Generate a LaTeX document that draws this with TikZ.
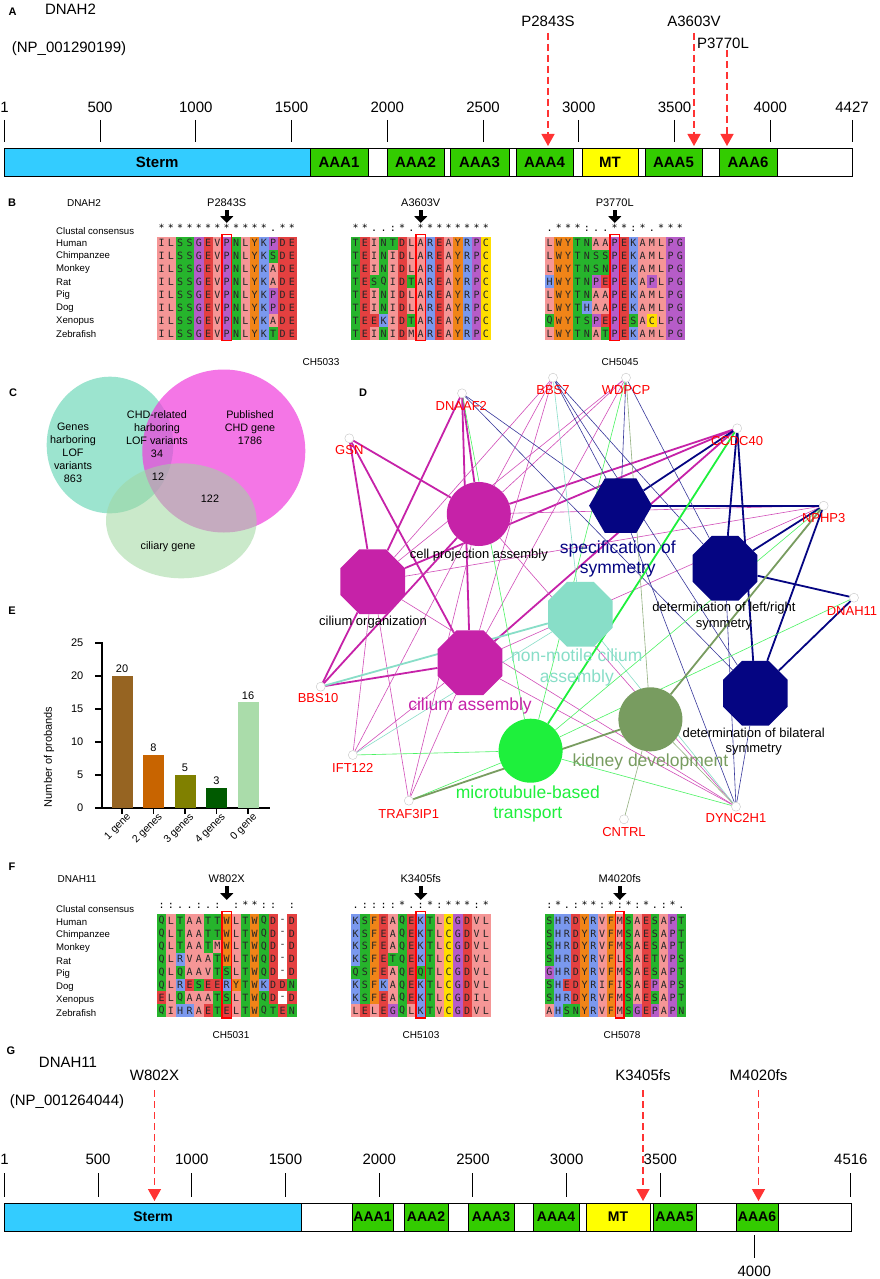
\documentclass[tikz,border=0pt]{standalone}
\usepackage{fontspec}
\setmainfont{Liberation Sans}
\newfontfamily\resfont{DejaVu Sans Mono}
\usetikzlibrary{arrows.meta,shapes.geometric,backgrounds}

\definecolor{stermblue}{RGB}{51,204,255}
\definecolor{aaagreen}{RGB}{51,204,0}
\definecolor{mtyellow}{RGB}{255,255,0}
\definecolor{mutred}{RGB}{255,51,51}
\definecolor{reshyd}{RGB}{245,150,150}
\definecolor{resacid}{RGB}{228,64,64}
\definecolor{respolar}{RGB}{38,180,44}
\definecolor{resgp}{RGB}{182,92,200}
\definecolor{resarom}{RGB}{240,132,24}
\definecolor{resbasic}{RGB}{122,152,238}
\definecolor{rescys}{RGB}{255,222,0}
\definecolor{venteal}{RGB}{90,210,175}
\definecolor{venmag}{RGB}{240,60,220}
\definecolor{vengreen}{RGB}{160,215,160}
\definecolor{barbrown}{RGB}{150,100,34}
\definecolor{barorange}{RGB}{200,100,0}
\definecolor{barolive}{RGB}{128,128,0}
\definecolor{bardark}{RGB}{0,90,0}
\definecolor{barlight}{RGB}{170,220,170}
\definecolor{termmag}{RGB}{198,34,168}
\definecolor{termnavy}{RGB}{5,5,130}
\definecolor{termteal}{RGB}{136,222,200}
\definecolor{termgreen}{RGB}{30,240,60}
\definecolor{termolive}{RGB}{120,156,96}

% residue colours
\def\setres#1#2{\expandafter\def\csname rc#1\endcsname{#2}}
\setres A{reshyd}\setres I{reshyd}\setres L{reshyd}\setres M{reshyd}\setres V{reshyd}
\setres D{resacid}\setres E{resacid}
\setres S{respolar}\setres T{respolar}\setres N{respolar}\setres Q{respolar}
\setres G{resgp}\setres P{resgp}
\setres Y{resarom}\setres W{resarom}\setres F{resarom}
\setres K{resbasic}\setres R{resbasic}\setres H{resbasic}
\setres C{rescys}\setres -{white}

% one alignment row: x, top, cell width, residues
\newcommand\alnrow[4]{\def\alnx{#1}\def\alny{#2}\def\alnw{#3}\def\alnc{0}%
  \expandafter\alnloop#4\relax}
\def\alnloop#1{\ifx\relax#1\else\alncell{#1}\expandafter\alnloop\fi}
\newcommand\alncell[1]{%
  \edef\alnfill{\csname rc#1\endcsname}%
  \fill[fill=\alnfill] ({\alnx+\alnc*\alnw},{\alny}) rectangle ++(\alnw,12.9);
  \node[res] at ({\alnx+(\alnc+0.5)*\alnw},{\alny+6.45}) {#1};
  \pgfmathsetmacro\alnc{\alnc+1}}
% consensus row: x, baseline, cell width, symbols (x = blank)
\newcommand\consrow[4]{\def\alnx{#1}\def\alny{#2}\def\alnw{#3}\def\alnc{0}%
  \consloop#4\relax}
\def\consloop#1{\ifx\relax#1\else\conscell{#1}\expandafter\consloop\fi}
\newcommand\conscell[1]{\ifx x#1\else
  \node[cons] at ({\alnx+(\alnc+0.5)*\alnw},{\alny}) {#1};\fi
  \pgfmathsetmacro\alnc{\alnc+1}}

\tikzset{
  panel/.style={font=\bfseries\fontsize{11}{13}\selectfont, inner sep=0},
  txtbig/.style={font=\fontsize{15}{18}\selectfont, inner sep=0},
  txtsmall/.style={font=\fontsize{10}{12}\selectfont, inner sep=0},
  txtmid/.style={font=\fontsize{11}{13}\selectfont, inner sep=0},
  rowlab/.style={font=\fontsize{9.6}{11}\selectfont, inner sep=0, anchor=west},
  res/.style={font=\resfont\fontsize{10}{10}\selectfont, inner sep=0, text=black!85},
  cons/.style={font=\resfont\fontsize{10}{10}\selectfont, inner sep=0, anchor=base},
  hl/.style={draw=red, line width=1.8pt},
  blackarrow/.style={line width=4.5pt, -{Triangle[width=13pt,length=7pt]}},
  dombox/.style={draw=black, line width=1pt},
  domlab/.style={font=\bfseries\fontsize{15}{18}\selectfont, inner sep=0},
  tickline/.style={line width=1pt},
  mutline/.style={mutred, dash pattern=on 7pt off 4pt, line width=1.3pt,
    -{Triangle[width=13pt,length=12pt]}},
  venn/.style={font=\fontsize{10.8}{13}\selectfont, inner sep=0, align=center},
  axisline/.style={line width=1.6pt},
  gene/.style={circle, draw=gray!45, fill=white, minimum size=9pt, inner sep=0},
  genelab/.style={font=\fontsize{13}{15}\selectfont, text=red, inner sep=0},
  termlab/.style={font=\fontsize{13}{15.5}\selectfont, inner sep=0, align=center},
  termbig/.style={font=\fontsize{17.5}{20.5}\selectfont, inner sep=0, align=center},
  octo/.style={regular polygon, regular polygon sides=8, minimum size=70pt, inner sep=0},
  magT/.style={termmag, line width=1.8pt},
  magt/.style={termmag!80, line width=0.6pt},
  navT/.style={termnavy, line width=1.8pt},
  navt/.style={termnavy!80!white, line width=0.6pt},
  grnT/.style={termgreen, line width=1.8pt},
  grnt/.style={termgreen!80!white, line width=0.6pt},
  olvT/.style={termolive, line width=1.8pt},
  olvt/.style={termolive!80!white, line width=0.6pt},
  tealT/.style={termteal, line width=1.8pt},
  tealt/.style={termteal, line width=0.6pt}
}

\begin{document}
\begin{tikzpicture}[x=1pt,y=-1pt]
  \begin{scope}[on background layer]
    \fill[white] (0,0) rectangle (879,1279);
  \end{scope}
  \useasboundingbox (0,0) rectangle (879,1279);

  % ---------- A ----------
  \node[panel] (pA) at (12.5,12) {A};
  \node[txtbig] (gA) at (70.5,9) {DNAH2};
  \node[txtbig] (npA) at (69,49) {(NP\_001290199)};
  \node[txtbig] (mA1) at (548,21) {P2843S};
  \node[txtbig] (mA2) at (694,21) {A3603V};
  \node[txtbig] (mA3) at (723,43) {P3770L};

  \foreach \v in {1,500,1000,1500,2000,2500,3000,3500,4000,4427} {
    \draw[tickline] ({4.5+(\v-1)*0.1915},120) -- ({4.5+(\v-1)*0.1915},142);
    \node[txtbig] at ({4.5+(\v-1)*0.1915},107) {\v};
  }
  \draw[dombox, fill=white] (4.5,148) rectangle (852,176);
  \foreach \a/\b/\c/\n in {4.5/310/stermblue/Sterm, 310/368/aaagreen/AAA1,
      387/444/aaagreen/AAA2, 450/509/aaagreen/AAA3, 516/573/aaagreen/AAA4,
      582/638/mtyellow/MT, 645/702/aaagreen/AAA5, 719/777/aaagreen/AAA6} {
    \draw[dombox, fill=\c] (\a,148) rectangle (\b,176);
    \node[domlab] at ({(\a+\b)/2},162) {\n};
  }
  \coordinate (a1s) at (548,33);  \coordinate (a1e) at (548,146);
  \coordinate (a2s) at (694,33);  \coordinate (a2e) at (694,146);
  \coordinate (a3s) at (727,50);  \coordinate (a3e) at (727,146);
  \draw[mutline] (a1s) -- (a1e);
  \draw[mutline] (a2s) -- (a2e);
  \draw[mutline] (a3s) -- (a3e);

  % ---------- B ----------
  \node[panel] (pB) at (12,203) {B};
  \node[txtsmall] (gB) at (84,203) {DNAH2};
  \node[rowlab] at (56,231) {Clustal consensus};
  \foreach \n [count=\i from 0] in {Human,Chimpanzee,Monkey,Rat,Pig,Dog,Xenopus,Zebrafish}
    \node[rowlab] at (56,{243.5+13*\i}) {\n};

  \foreach \s [count=\i from 0] in {ILSSGEVPNLYKPDE,ILSSGEVPNLYKSDE,ILSSGEVPNLYKADE,
      ILSSGEVPNLYKADE,ILSSGEVPNLYKPDE,ILSSGEVPNLYKPDE,ILSSGEVPNLYKADE,ILSSGEVPNLYKTDE}
    {\alnrow{157}{236.7+12.9*\i}{9.3}{\s}}
  \foreach \s [count=\i from 0] in {TEINTDLAREAYRPC,TEINIDLAREAYRPC,TEINIDLAREAYRPC,
      TESQIDTAREAYRPC,TEINIDLAREAYRPC,TEINIDLAREAYRPC,TEEKIDTAREAYRPC,TEINIDMAREAYRPC}
    {\alnrow{351}{236.7+12.9*\i}{9.3}{\s}}
  \foreach \s [count=\i from 0] in {LWYTNAAPEKAMLPG,LWYTNSSPEKAMLPG,LWYTNSNPEKAMLPG,
      HWYTNPEPEKAPLPG,LWYTNAAPEKAMLPG,LWYTHAAPEKAMLPG,QWYTSPEPESACLPG,LWYTNATPEKAMLPG}
    {\alnrow{545}{236.7+12.9*\i}{9.3}{\s}}
  \consrow{157}{231}{9.3}{************.**}
  \consrow{351}{231}{9.3}{**..:*.********}
  \consrow{545}{231}{9.3}{.***:..**:*.***}
  \draw[hl] (222.1,234.5) rectangle ++(9.3,106);
  \draw[hl] (416.1,234.5) rectangle ++(9.3,106);
  \draw[hl] (610.1,234.5) rectangle ++(9.3,106);

  \node[txtmid] (mB1) at (226.75,203) {P2843S};
  \node[txtmid] (mB2) at (420.75,203) {A3603V};
  \node[txtmid] (mB3) at (614.75,203) {P3770L};
  \coordinate (b1) at (226.75,223); \coordinate (b2) at (420.75,223); \coordinate (b3) at (614.75,223);
  \draw[blackarrow] (mB1.south) ++(0,3) -- (b1);
  \draw[blackarrow] (mB2.south) ++(0,3) -- (b2);
  \draw[blackarrow] (mB3.south) ++(0,3) -- (b3);
  \node[txtsmall] (chB1) at (321,362) {CH5033};
  \node[txtsmall] (chB3) at (620,362) {CH5045};

  % ---------- C ----------
  \node[panel] (pC) at (13,393) {C};
  \fill[venteal, fill opacity=0.6] (110,445) ellipse [x radius=63.3, y radius=68.3];
  \fill[venmag, fill opacity=0.7] (223.8,451) circle [radius=81.5];
  \fill[vengreen, fill opacity=0.55] (181.3,520.8) ellipse [x radius=75.3, y radius=57.5];
  \node[venn] (vlof) at (73,452.5) {Genes\\harboring\\LOF\\variants\\863};
  \node[venn] (vchd) at (157,434.5) {CHD-related\\harboring\\LOF variants\\34};
  \node[venn] (vpub) at (250,428) {Published\\CHD gene\\1786};
  \node[venn] (v12) at (158,477) {12};
  \node[venn] (v122) at (210,499) {122};
  \node[venn] (vcil) at (168,547) {ciliary gene};

  % ---------- E ----------
  \node[panel] (pE) at (12,611) {E};
  \draw[axisline] (101.7,642) -- (101.7,808) -- (270,808);
  \foreach \v in {0,5,10,15,20,25} {
    \draw[axisline] (95,{808-6.6*\v}) -- (101.7,{808-6.6*\v});
    \node[txtmid, anchor=east] at (83.5,{808-6.6*\v}) {\v};
  }
  \foreach \x/\v/\c/\n in {122/20/barbrown/1 gene, 153.5/8/barorange/2 genes,
      185/5/barolive/3 genes, 216.5/3/bardark/4 genes, 248/16/barlight/0 gene} {
    \fill[\c] ({\x-10.5},808) rectangle ({\x+10.5},{808-6.6*\v});
    \node[txtmid, anchor=south] at (\x,{805-6.6*\v}) {\v};
    \draw[axisline] (\x,808) -- (\x,814);
    \node[txtmid, font=\fontsize{10.5}{12}\selectfont, rotate=45, anchor=north east]
      at ({\x+4},812) {\n};
  }
  \node[txtmid] [rotate=90] (ylab) at (49,757) {Number of probands};

  % ---------- D ----------
  \node[panel] (pD) at (363,393) {D};
  \node[circle, fill=termmag, minimum size=64pt, inner sep=0] (cpa) at (478.8,514) {};
  \node[regular polygon, regular polygon sides=6, minimum size=63pt, inner sep=0,
        fill=termnavy] (sos) at (620.6,505.7) {};
  \node[octo, fill=termmag] (co) at (372.7,581.7) {};
  \node[octo, fill=termnavy] (lrs) at (725,568.3) {};
  \node[octo, fill=termteal] (nmca) at (580.4,614.3) {};
  \node[octo, fill=termmag] (ca) at (470,662.7) {};
  \node[circle, fill=termgreen, minimum size=64pt, inner sep=0] (mbt) at (530.6,750.7) {};
  \node[circle, fill=termolive, minimum size=64pt, inner sep=0] (kd) at (650.4,719.3) {};
  \node[octo, fill=termnavy] (bs) at (755.4,693.3) {};

  \node[gene] (dnaaf2) at (462,393.3) {};
  \node[gene] (bbs7) at (553,377.7) {};
  \node[gene] (wdpcp) at (626,377.7) {};
  \node[gene] (gsn) at (349.3,438.3) {};
  \node[gene] (ccdc40) at (737.2,428.3) {};
  \node[gene] (nphp3) at (823.7,505.7) {};
  \node[gene] (dnah11) at (854,597.7) {};
  \node[gene] (bbs10) at (320.7,686.7) {};
  \node[gene] (ift122) at (352.8,755) {};
  \node[gene] (traf3ip1) at (408.8,800.7) {};
  \node[gene] (cntrl) at (624,819.3) {};
  \node[gene] (dync2h1) at (736,806.7) {};

  \begin{scope}[on background layer]
    \foreach \g/\t in {gsn/cpa, gsn/co, gsn/ca, dnaaf2/cpa, dnaaf2/co, dnaaf2/ca,
        ccdc40/cpa, ccdc40/co, ccdc40/ca, bbs10/cpa, bbs10/co, bbs10/ca}
      \draw[magT] (\g) -- (\t);
    \foreach \g/\t in {bbs7/cpa, bbs7/co, bbs7/ca, wdpcp/cpa, wdpcp/co, wdpcp/ca,
        nphp3/cpa, nphp3/co, nphp3/ca, ift122/cpa, ift122/co, ift122/ca,
        traf3ip1/cpa, traf3ip1/co, traf3ip1/ca, dync2h1/cpa, dync2h1/co, dync2h1/ca}
      \draw[magt] (\g) -- (\t);
    \foreach \g/\t in {ccdc40/sos, ccdc40/lrs, ccdc40/bs, nphp3/sos, nphp3/lrs,
        nphp3/bs, dnah11/lrs, dnah11/bs}
      \draw[navT] (\g) -- (\t);
    \foreach \g/\t in {dnaaf2/sos, dnaaf2/bs, bbs7/sos, bbs7/lrs, bbs7/bs,
        wdpcp/sos, wdpcp/lrs, dync2h1/sos, dync2h1/lrs, dync2h1/bs}
      \draw[navt] (\g) -- (\t);
    \draw[tealT] (bbs10) -- (nmca);
    \foreach \g in {bbs7, ift122, dync2h1}
      \draw[tealt] (\g) -- (nmca);
    \draw[grnT] (ccdc40) -- (mbt);
    \foreach \g in {dnaaf2, wdpcp, nphp3, dnah11, ift122, traf3ip1, dync2h1}
      \draw[grnt] (\g) -- (mbt);
    \draw[olvT] (nphp3) -- (kd);
    \draw[olvT] (traf3ip1) -- (kd);
    \foreach \g in {wdpcp, cntrl, dync2h1}
      \draw[olvt] (\g) -- (kd);
  \end{scope}

  \node[genelab] at (461.3,406) {DNAAF2};
  \node[genelab] at (553,390) {BBS7};
  \node[genelab] at (626,390) {WDPCP};
  \node[genelab] at (349.3,450) {GSN};
  \node[genelab] at (737,441) {CCDC40};
  \node[genelab] at (823.7,518.3) {NPHP3};
  \node[genelab] at (852,610.7) {DNAH11};
  \node[genelab] at (318,698) {BBS10};
  \node[genelab] at (352.8,768.3) {IFT122};
  \node[genelab] at (408.8,814) {TRAF3IP1};
  \node[genelab] at (624,831.7) {CNTRL};
  \node[genelab] at (736,818.3) {DYNC2H1};

  \node[termlab] at (478.8,555) {cell projection assembly};
  \node[termbig, text=termnavy] at (617.8,559) {specification of\\symmetry};
  \node[termlab] at (373,622.5) {cilium organization};
  \node[termlab] at (724,616) {determination of left/right\\symmetry};
  \node[termbig, text=termteal] at (576.8,667.7) {non-motile cilium\\assembly};
  \node[termbig, text=termmag] at (470,705.7) {cilium assembly};
  \node[termbig, text=termgreen] at (527.8,803.8) {microtubule-based\\transport};
  \node[termbig, text=termolive] at (650.4,762.3) {kidney development};
  \node[termlab] at (753.7,741.7) {determination of bilateral\\symmetry};

  % ---------- F ----------
  \node[panel] (pF) at (12,867) {F};
  \node[txtsmall] (gF) at (77,879) {DNAH11};
  \node[rowlab] at (56,909) {Clustal consensus};
  \foreach \n [count=\i from 0] in {Human,Chimpanzee,Monkey,Rat,Pig,Dog,Xenopus,Zebrafish}
    \node[rowlab] at (56,{922.5+13*\i}) {\n};

  \foreach \s [count=\i from 0] in {QLTAATTWLTWQD-D,QLTAATTWLTWQD-D,QLTAATMWLTWQD-D,
      QLRVAATWLTWQD-D,QLQAAVTSLTWQD-D,QLRESEERYTWKDDN,ELQAAATSLTWQD-D,QIHRAETELTWQTEN}
    {\alnrow{157}{914+12.9*\i}{9.3}{\s}}
  \foreach \s [count=\i from 0] in {KSFEAQEKTLCGDVL,KSFEAQEKTLCGDVL,KSFEAQEKTLCGDVL,
      KSFETQEKTLCGDVL,QSFEAQEQTLCGDVL,KSFKAQEKTLCGDVL,KSFEAQEKTLCGDIL,LELEGQLKTVCGDVL}
    {\alnrow{351}{914+12.9*\i}{9.3}{\s}}
  \foreach \s [count=\i from 0] in {SHRDYRVFMSAESAPT,SHRDYRVFMSAESAPT,SHRDYRVFMSAESAPT,
      SHRDYRVFLSAETVPS,GHRDYRVFMSAESAPT,SHEDYRIFISAEPAPS,SHRDYRVFMSAESAPT,AHSNYRVFMSGEPAPN}
    {\alnrow{545}{914+12.9*\i}{8.8}{\s}}
  \consrow{157}{908.5}{9.3}{::..:.:x:**::x:}
  \consrow{351}{908.5}{9.3}{.::::*.:*:***:*}
  \consrow{545}{908.5}{8.8}{:*.:**:*:*:*.:*.}
  \draw[hl] (222.1,911.5) rectangle ++(9.3,106.5);
  \draw[hl] (416.1,911.5) rectangle ++(9.3,106.5);
  \draw[hl] (615.4,911.5) rectangle ++(8.8,106.5);

  \node[txtmid] (mF1) at (226.75,879) {W802X};
  \node[txtmid] (mF2) at (420.75,879) {K3405fs};
  \node[txtmid] (mF3) at (619.8,879) {M4020fs};
  \coordinate (f1) at (226.75,900); \coordinate (f2) at (420.75,900); \coordinate (f3) at (619.8,900);
  \draw[blackarrow] (mF1.south) ++(0,3) -- (f1);
  \draw[blackarrow] (mF2.south) ++(0,3) -- (f2);
  \draw[blackarrow] (mF3.south) ++(0,3) -- (f3);
  \node[txtsmall] (chF1) at (231,1035) {CH5031};
  \node[txtsmall] (chF2) at (421,1035) {CH5103};
  \node[txtsmall] (chF3) at (622,1035) {CH5078};

  % ---------- G ----------
  \node[panel] (pG) at (11,1051) {G};
  \node[txtbig] (gG) at (68,1062) {DNAH11};
  \node[txtbig] (npG) at (67,1102) {(NP\_001264044)};
  \node[txtbig] (mG1) at (154.5,1075) {W802X};
  \node[txtbig] (mG2) at (643,1075) {K3405fs};
  \node[txtbig] (mG3) at (758.5,1075) {M4020fs};

  \foreach \v in {1,500,1000,1500,2000,2500,3000,3500,4516} {
    \draw[tickline] ({4.5+(\v-1)*0.18746},1173) -- ({4.5+(\v-1)*0.18746},1197);
    \node[txtbig] at ({4.5+(\v-1)*0.18746},1159) {\v};
  }
  \draw[dombox, fill=white] (4.5,1203) rectangle (851,1231);
  \foreach \a/\b/\c/\n in {4.5/301.7/stermblue/Sterm, 352/393/aaagreen/AAA1,
      404/448/aaagreen/AAA2, 468/514/aaagreen/AAA3, 533/579/aaagreen/AAA4,
      586/650/mtyellow/MT, 653/696/aaagreen/AAA5, 736/778/aaagreen/AAA6} {
    \draw[dombox, fill=\c] (\a,1203) rectangle (\b,1231);
    \node[domlab, font=\bfseries\fontsize{14}{16}\selectfont] at ({(\a+\b)/2},1217) {\n};
  }
  \draw[tickline] (754.3,1235) -- (754.3,1258);
  \node[txtbig] (t4000) at (754.3,1271) {4000};
  \coordinate (g1s) at (154.5,1090); \coordinate (g1e) at (154.5,1201);
  \coordinate (g2s) at (643,1090);   \coordinate (g2e) at (643,1201);
  \coordinate (g3s) at (758.5,1090); \coordinate (g3e) at (758.5,1201);
  \draw[mutline] (g1s) -- (g1e);
  \draw[mutline] (g2s) -- (g2e);
  \draw[mutline] (g3s) -- (g3e);
\end{tikzpicture}
\end{document}
